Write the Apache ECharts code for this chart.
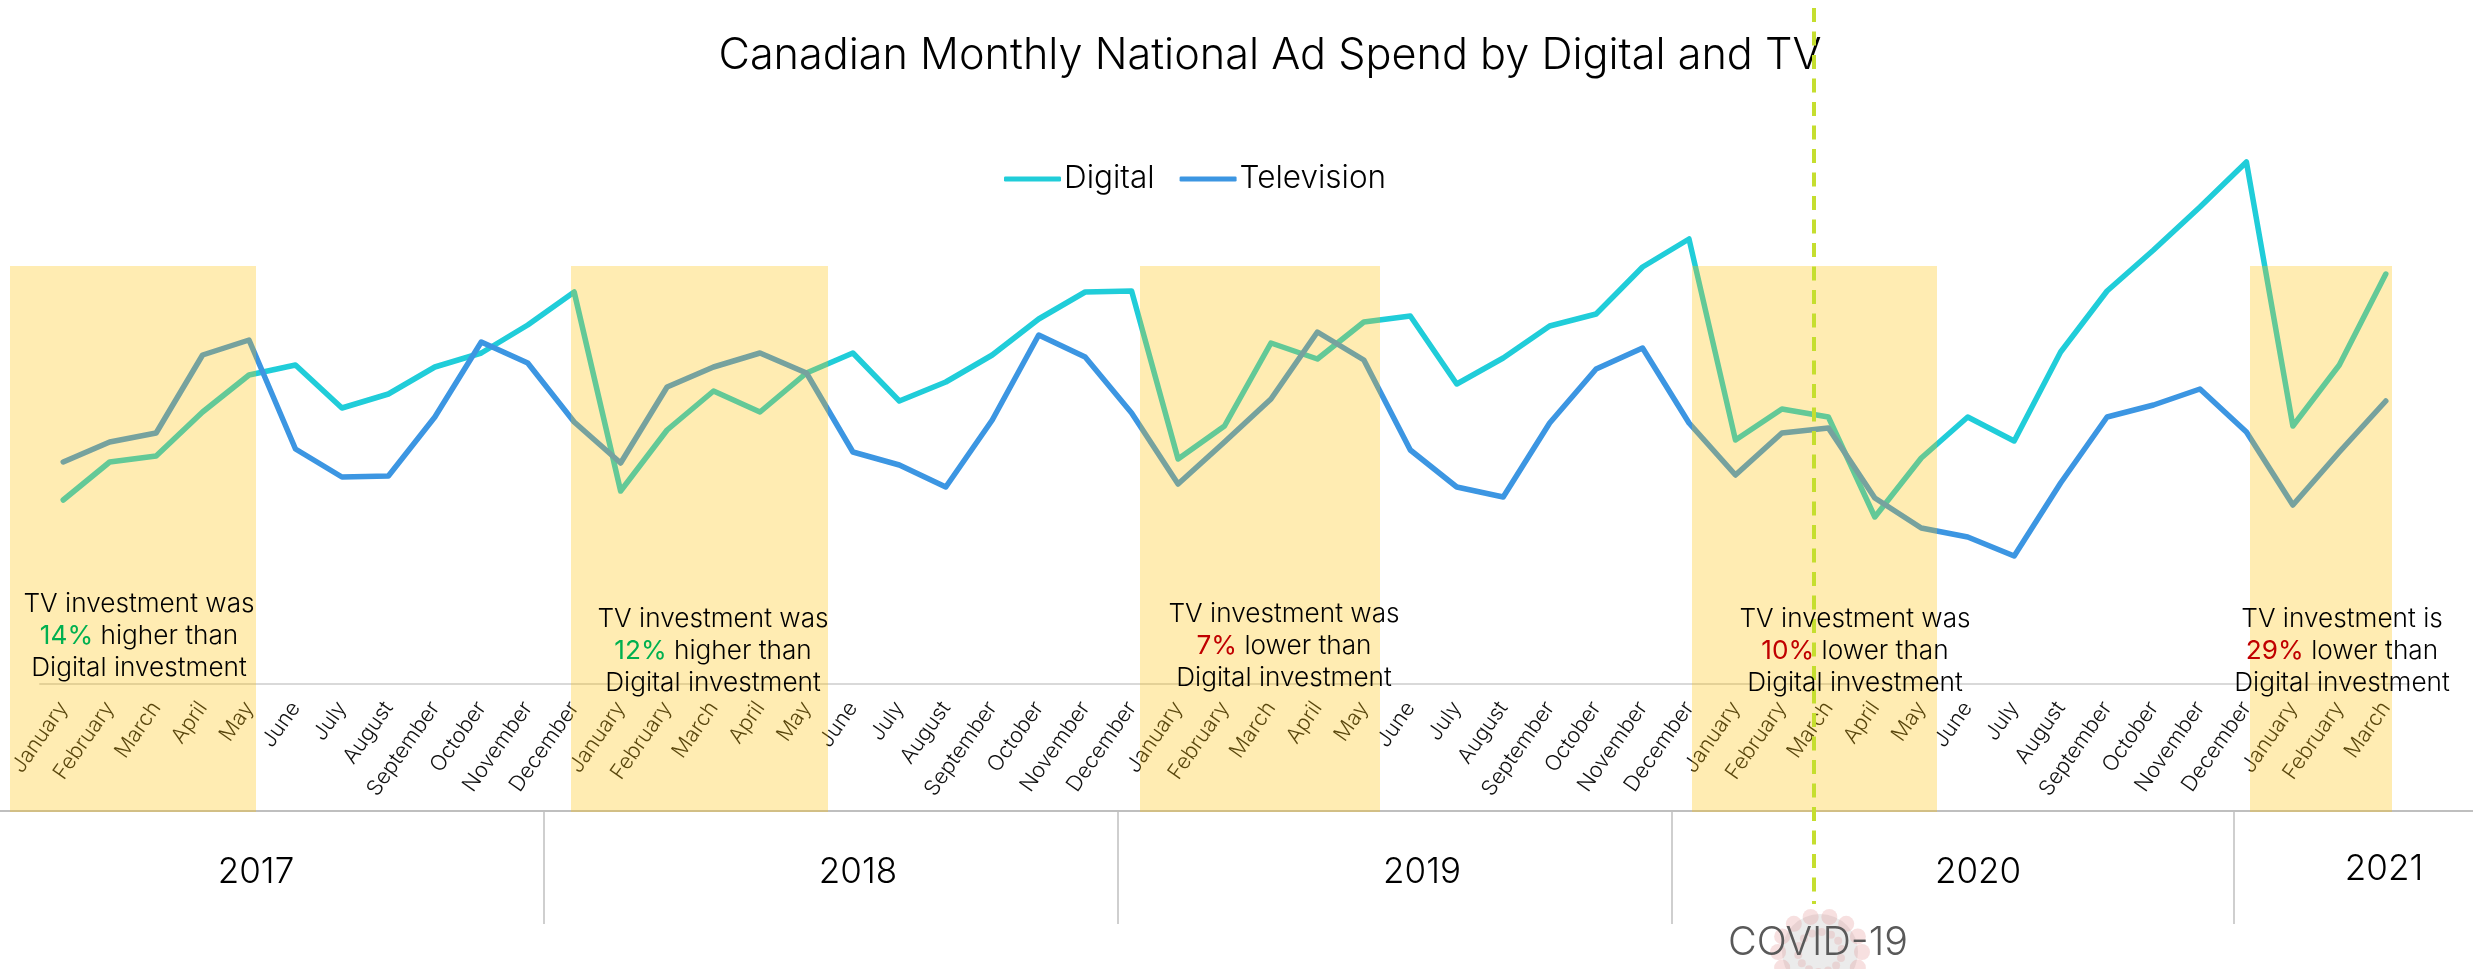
<!DOCTYPE html>
<html><head><meta charset="utf-8">
<style>html,body{margin:0;padding:0;background:#fff}#c{width:2473px;height:969px}</style>
<script src="https://cdn.jsdelivr.net/npm/echarts@6/dist/echarts.min.js"></script>
</head><body><div id="c"></div>
<script>
const monthNames = ['January','February','March','April','May','June','July','August','September','October','November','December'];
const categories = [];
for (let i = 0; i < 51; i++) categories.push(monthNames[i % 12]);
const digital = [184,222,228,272,309,319,276,290,317,331,359,392,
 193,254,293,272,311,331,283,302,329,365,392,393,
 225,258,341,325,362,368,300,326,358,370,417,445,
 244,275,267,167,226,267,243,332,393,434,477,522,
 258,319,410];
const television = [222,242,251,329,344,235,207,208,267,342,321,262,
 221,297,317,331,311,232,219,197,264,349,327,271,
 200,242,285,352,324,234,197,187,261,315,336,261,
 209,251,256,186,156,147,128,201,267,279,295,252,
 179,232,283];
const legendNames = ['Digital','Television'];
const years = ['2017','2018','2019','2020','2021'];
const annotationLines = [
 ['TV investment was','14%','higher than','good'],
 ['TV investment was','12%','higher than','good'],
 ['TV investment was','7%','lower than','bad'],
 ['TV investment was','10%','lower than','bad'],
 ['TV investment is','29%','lower than','bad']
];
const FONT = 'Inter';
const bands = [[10,256],[571,828],[1140,1380],[1692,1937],[2250,2392]];
const yearX = [[256,872],[858,872],[1422,872],[1978,872],[2384,869]];
const yearTicks = [544,1118,1672,2234];
const annoPos = [[139,604],[713,619],[1284,614],[1855,619],[2342,619]];

const g = [];
bands.forEach(b => g.push({type:'rect',z:50,silent:true,shape:{x:b[0],y:266,width:b[1]-b[0],height:546},style:{fill:'rgba(255,192,0,0.3)'}}));
g.push({type:'line',z:10,silent:true,shape:{x1:0,y1:811,x2:2473,y2:811},style:{stroke:'#BFBFBF',lineWidth:2}});
yearTicks.forEach(x => g.push({type:'line',z:10,silent:true,shape:{x1:x,y1:812,x2:x,y2:924},style:{stroke:'#BFBFBF',lineWidth:1.5}}));
years.forEach((y,i) => g.push({type:'text',z:60,silent:true,x:yearX[i][0],y:yearX[i][1],style:{text:y,fill:'#000',font:'300 35px '+FONT,textAlign:'center',textVerticalAlign:'middle'}}));
g.push({type:'line',z:70,silent:true,shape:{x1:1814,y1:8,x2:1814,y2:904},style:{stroke:'#C5DE2F',lineWidth:4,lineDash:[14,9.5]}});
annotationLines.forEach((a,i) => {
  const tone = a[3]==='good' ? 'g' : 'r';
  g.push({type:'text',z:80,silent:true,x:annoPos[i][0],y:annoPos[i][1]-16,style:{
    text:a[0]+'\n{'+tone+'|'+a[1]+'} '+a[2]+'\nDigital investment',
    fill:'#000',font:'300 26.2px '+FONT,textAlign:'center',textVerticalAlign:'top',lineHeight:32,
    rich:{g:{fill:'#00B050',font:'400 26.2px '+FONT,lineHeight:32},r:{fill:'#C00000',font:'400 26.2px '+FONT,lineHeight:32}}
  }});
});
// virus emblem behind the COVID-19 caption
const cx=1820, cy=952;
g.push({type:'circle',z:20,silent:true,shape:{cx:cx,cy:cy,r:38},style:{fill:'rgba(205,205,205,0.4)'}});
for (let k=0;k<14;k++){ const t=k/14*Math.PI*2;
  g.push({type:'circle',z:21,silent:true,shape:{cx:cx+Math.cos(t)*42,cy:cy+Math.sin(t)*36,r:8},style:{fill:'rgba(225,130,130,0.25)'}});
  g.push({type:'circle',z:21,silent:true,shape:{cx:cx+Math.cos(t+0.3)*22,cy:cy+Math.sin(t+0.3)*20,r:4},style:{fill:'rgba(225,130,130,0.22)'}});
}
g.push({type:'text',z:90,silent:true,x:1818,y:943,style:{text:'COVID-19',fill:'#595959',font:'300 39.5px '+FONT,textAlign:'center',textVerticalAlign:'middle'}});

const chart = echarts.init(document.getElementById('c'),null,{renderer:'canvas'});
chart.setOption({
  animation:false,
  backgroundColor:'#fff',
  title:{text:'Canadian Monthly National Ad Spend by Digital and TV',left:1265,top:30,textAlign:'center',
    textStyle:{fontFamily:FONT,fontWeight:300,fontSize:43.2,color:'#000'}},
  legend:{left:999,top:158,itemWidth:57,itemHeight:5,itemGap:25,icon:'roundRect',
    data:legendNames,textStyle:{fontFamily:FONT,fontWeight:300,fontSize:31.5,color:'#000',padding:[0,0,0,-2]}},
  grid:{left:40,right:64,top:84,bottom:285},
  xAxis:{type:'category',data:categories,boundaryGap:true,
    axisLine:{show:true,lineStyle:{color:'#D9D9D9',width:2}},axisTick:{show:false},
    axisLabel:{interval:0,rotate:55,margin:20,padding:[6,0,0,0],fontFamily:FONT,fontWeight:300,fontSize:21.5,color:'#111'}},
  yAxis:{type:'value',min:0,max:600,show:false,splitLine:{show:false}},
  series:[
    {name:'Digital',type:'line',data:digital,symbol:'none',z:3,lineStyle:{color:'#20CDD9',width:5.5,cap:'round',join:'round'},itemStyle:{color:'#20CDD9'}},
    {name:'Television',type:'line',data:television,symbol:'none',z:4,lineStyle:{color:'#3C96E2',width:5.5,cap:'round',join:'round'},itemStyle:{color:'#3C96E2'}}
  ],
  graphic:{elements:g}
});
</script></body></html>
